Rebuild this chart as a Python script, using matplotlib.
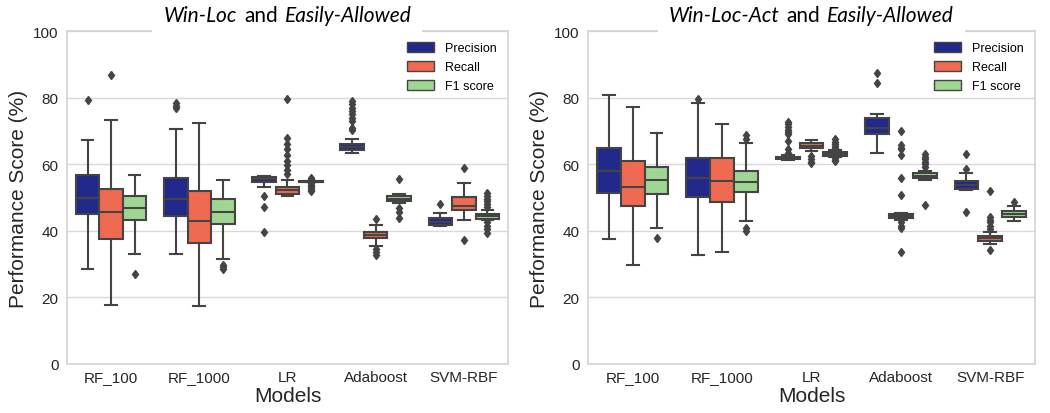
import matplotlib
matplotlib.use('Agg')
import matplotlib.pyplot as plt
from matplotlib.patches import Patch
from matplotlib.offsetbox import TextArea, HPacker, AnnotationBbox

plt.rcParams['font.family'] = ['Liberation Sans', 'DejaVu Sans']

MODELS = ['RF_100', 'RF_1000', 'LR', 'Adaboost', 'SVM-RBF']
METRICS = ['Precision', 'Recall', 'F1 score']
COLORS = ['#22298c', '#ee6a50', '#9fd693']
GRAY = '#444444'

# Win-Loc and Easily-Allowed  (rows = models, cols = precision, recall, f1)
WL_LOW = [[28.5, 17.6, 32.9], [33.0, 17.5, 31.5], [53.2, 50.3, 54.6],
          [63.3, 35.5, 48.2], [41.5, 43.3, 43.2]]
WL_Q1 = [[45.1, 37.6, 43.1], [44.3, 36.3, 42.0], [54.7, 51.0, 54.7],
         [64.2, 37.7, 48.8], [41.7, 46.2, 43.5]]
WL_MED = [[49.9, 45.7, 46.7], [49.6, 43.0, 45.6], [55.6, 52.3, 54.8],
          [65.2, 38.7, 49.5], [42.5, 47.3, 44.3]]
WL_Q3 = [[56.9, 52.7, 50.4], [55.8, 51.9, 49.6], [56.3, 53.2, 54.9],
         [66.0, 39.5, 50.3], [43.9, 50.2, 45.0]]
WL_HIGH = [[67.2, 73.3, 56.9], [70.7, 72.3, 55.3], [56.6, 55.2, 55.0],
           [67.5, 41.7, 51.0], [45.3, 54.5, 46.3]]
WL_FLIERS = [
    [[79.3], [86.7], [26.9]],
    [[78.4, 77.6, 76.9], [], [29.8, 29.0, 28.4]],
    [[50.5, 47.2, 39.7],
     [79.7, 67.8, 66.2, 64.5, 62.8, 61.0, 59.7, 58.3, 57.0],
     [56.0, 55.6, 55.3, 54.3, 53.9, 53.4, 52.8, 52.3, 51.8]],
    [[79.0, 78.0, 77.0, 76.0, 75.0, 74.0, 73.0, 71.0, 70.3],
     [43.5, 34.5, 33.7, 32.7],
     [55.5, 46.8, 45.5, 43.9]],
    [[48.0], [59.0, 37.3],
     [51.2, 50.3, 49.5, 48.8, 48.0, 47.2, 42.5, 41.5, 40.5, 39.2]],
]

# Win-Loc-Act and Easily-Allowed
WLA_LOW = [[37.6, 29.8, 40.7], [32.7, 33.7, 42.8], [61.4, 64.0, 62.1],
           [63.4, 43.3, 55.3], [52.3, 36.0, 43.0]]
WLA_Q1 = [[51.2, 47.5, 51.0], [50.1, 48.5, 51.7], [61.5, 64.8, 62.5],
          [69.2, 43.8, 55.8], [52.7, 37.0, 44.0]]
WLA_MED = [[58.0, 53.3, 55.2], [56.0, 54.9, 54.8], [61.8, 65.6, 63.1],
           [71.0, 44.5, 56.6], [53.8, 37.8, 44.9]]
WLA_Q3 = [[65.0, 61.0, 59.2], [61.8, 62.0, 58.1], [62.2, 66.3, 63.7],
          [73.8, 45.0, 57.4], [55.0, 38.5, 45.8]]
WLA_HIGH = [[80.8, 77.2, 69.5], [78.5, 72.2, 66.5], [62.8, 67.4, 64.2],
            [75.0, 45.3, 58.0], [57.3, 39.5, 47.5]]
WLA_FLIERS = [
    [[], [], [37.9]],
    [[79.7], [], [68.7, 67.7, 40.8, 40.0]],
    [[72.8, 72.0, 71.2, 70.2, 69.6, 69.0, 67.0, 64.5, 63.5],
     [62.5, 61.5, 60.8, 60.3],
     [67.5, 66.8, 66.2, 65.5, 65.0, 64.6, 61.8, 61.4, 61.1]],
    [[87.3, 84.3],
     [70.0, 65.8, 65.0, 64.5, 62.7, 56.0, 50.7, 42.5, 41.5, 40.8, 33.5],
     [63.0, 62.3, 61.5, 60.8, 60.0, 59.3, 47.7]],
    [[63.0, 58.5, 45.5],
     [51.8, 44.0, 43.3, 42.5, 41.5, 40.5, 34.3],
     [48.7]],
]


def add_title(ax, parts):
    areas = [TextArea(txt, textprops=dict(fontsize=15, family='Lato',
                                          style=st, color='black'))
             for txt, st in parts]
    pack = HPacker(children=areas, pad=8, sep=5, align='baseline')
    ab = AnnotationBbox(pack, (0.5, 1.0), xycoords='axes fraction',
                        xybox=(0, 16), boxcoords='offset pixels',
                        box_alignment=(0.5, 0.5), frameon=True, pad=0,
                        bboxprops=dict(boxstyle='square,pad=0', fc='white', ec='none'),
                        annotation_clip=False, zorder=10)
    ax.add_artist(ab)


def draw_panel(ax, low, q1, med, q3, high, fliers, title_parts):
    w = 0.8 / 3
    stats, pos, cols = [], [], []
    for i in range(len(MODELS)):
        for j in range(3):
            stats.append(dict(med=med[i][j], q1=q1[i][j], q3=q3[i][j],
                              whislo=low[i][j], whishi=high[i][j],
                              fliers=fliers[i][j]))
            pos.append(i + (j - 1) * w)
            cols.append(COLORS[j])

    res = ax.bxp(stats, positions=pos, widths=w, patch_artist=True,
                 manage_ticks=False,
                 boxprops=dict(edgecolor=GRAY, linewidth=1.5),
                 medianprops=dict(color=GRAY, linewidth=1.5),
                 whiskerprops=dict(color=GRAY, linewidth=1.5),
                 capprops=dict(color=GRAY, linewidth=1.5),
                 flierprops=dict(marker='d', markersize=4.5, markerfacecolor=GRAY,
                                 markeredgecolor=GRAY, linestyle='none'))
    for box, c in zip(res['boxes'], cols):
        box.set_facecolor(c)

    ax.set_xlim(-0.5, 4.5)
    ax.set_ylim(0, 100)
    ax.set_xticks(range(len(MODELS)))
    ax.set_xticklabels(MODELS)
    ax.set_yticks([0, 20, 40, 60, 80, 100])
    ax.tick_params(length=0, labelsize=11, colors='#262626')
    ax.tick_params(axis='y', pad=6)
    ax.tick_params(axis='x', pad=4)
    ax.yaxis.grid(True, color='#d9d9d9', linewidth=1.0)
    ax.set_axisbelow(True)
    for s in ax.spines.values():
        s.set_color('#d4d4d4')
        s.set_linewidth(1.2)

    ax.set_xlabel('Models', fontsize=15, color='#262626', labelpad=2)
    ax.set_ylabel('Performance Score (%)', fontsize=15, color='#262626', labelpad=4)

    handles = [Patch(facecolor=c, edgecolor=GRAY, linewidth=1.0, label=m)
               for c, m in zip(COLORS, METRICS)]
    ax.legend(handles=handles, loc='upper right', frameon=False, fontsize=9,
              handlelength=2.1, handleheight=0.8, labelspacing=0.55,
              handletextpad=0.9)

    add_title(ax, title_parts)


fig = plt.figure(figsize=(10.5, 4.14), dpi=100)
ax1 = fig.add_axes([0.0638, 0.1184, 0.42, 0.8043])
ax2 = fig.add_axes([0.56, 0.1184, 0.4257, 0.8043])

draw_panel(ax1, WL_LOW, WL_Q1, WL_MED, WL_Q3, WL_HIGH, WL_FLIERS,
           [('Win-Loc', 'italic'), ('and', 'normal'), ('Easily-Allowed', 'italic')])
draw_panel(ax2, WLA_LOW, WLA_Q1, WLA_MED, WLA_Q3, WLA_HIGH, WLA_FLIERS,
           [('Win-Loc-Act', 'italic'), ('and', 'normal'), ('Easily-Allowed', 'italic')])

fig.savefig('out.png', dpi=100, facecolor='white')
